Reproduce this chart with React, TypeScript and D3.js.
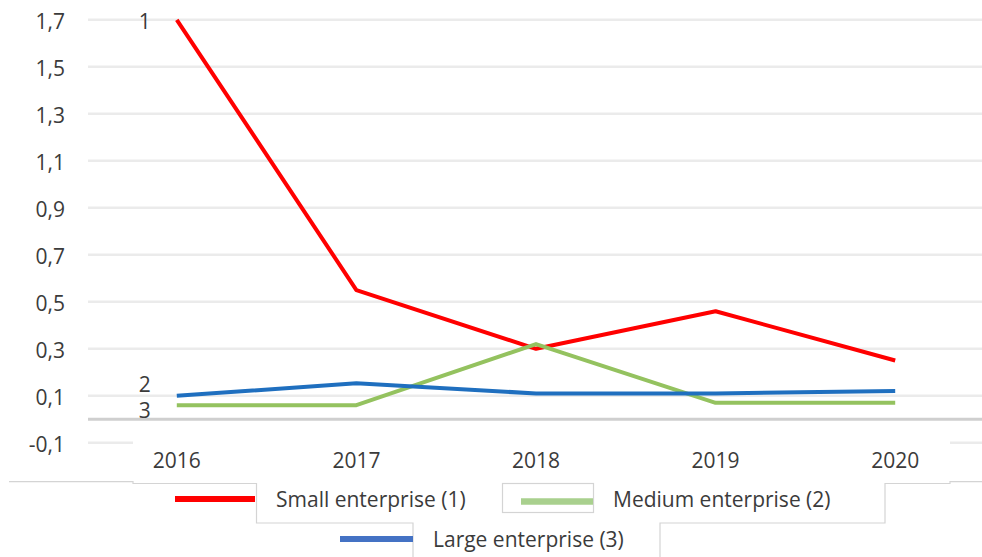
import React from 'react';
import * as d3 from 'd3';

const years = ['2016', '2017', '2018', '2019', '2020'];
const smallEnterprise = [1.7, 0.55, 0.3, 0.46, 0.25];
const mediumEnterprise = [0.06, 0.06, 0.32, 0.07, 0.07];
const largeEnterprise = [0.1, 0.153, 0.11, 0.11, 0.12];
const yTicks = [-0.1, 0.1, 0.3, 0.5, 0.7, 0.9, 1.1, 1.3, 1.5, 1.7];
const seriesNames = ['Small enterprise (1)', 'Medium enterprise (2)', 'Large enterprise (3)'];
const lineLabels = ['1', '2', '3'];

const W = 982;
const H = 557;
const FONT = "'Open Sans', sans-serif";
const TEXT = '#3b3b3b';
const BORDER = '#d4d4d4';

export default function App() {
  const x = d3.scalePoint<string>().domain(years).range([87, 985]).padding(0.5);
  const y = d3.scaleLinear().domain([0, 1.7]).range([419.3, 19.8]);
  const line = d3
    .line<number>()
    .x((_, i) => x(years[i]) as number)
    .y((d) => y(d));

  const fmt = (v: number) => d3.format('.1f')(v).replace('.', ',').replace('−', '-');

  const series = [
    { values: smallEnterprise, color: '#ff0000', legend: '#ff0000' },
    { values: mediumEnterprise, color: '#94c25f', legend: '#a9d08e' },
    { values: largeEnterprise, color: '#1f6fbf', legend: '#4472c4' },
  ];

  const x0 = x(years[0]) as number;

  return (
    <svg
      width={W}
      height={H}
      style={{ position: 'absolute', left: 0, top: 0, background: '#fff' }}
      fontFamily={FONT}
    >
      <rect x={0} y={0} width={W} height={H} fill="#fff" />
      {/* gridlines */}
      {yTicks.map((t) => (
        <line key={t} x1={88} x2={W} y1={y(t)} y2={y(t)} stroke="#ebebeb" strokeWidth={2.5} />
      ))}
      {/* zero axis */}
      <line x1={88} x2={W} y1={y(0)} y2={y(0)} stroke="#cfcfcf" strokeWidth={3} />
      {/* category label panel covering part of the lowest gridline */}
      <rect x={133} y={428} width={817} height={54} fill="#fff" />
      {/* y tick labels */}
      {yTicks.map((t) => (
        <text key={t} x={65} y={y(t) + 9} textAnchor="end" fontSize={21} fill={TEXT}>
          {fmt(t)}
        </text>
      ))}
      {/* x labels */}
      {years.map((yr) => (
        <text key={yr} x={x(yr) as number} y={468} textAnchor="middle" fontSize={21} fill={TEXT}>
          {yr}
        </text>
      ))}
      {/* lines */}
      {series.map((s, i) => (
        <path
          key={i}
          d={line(s.values) || ''}
          fill="none"
          stroke={s.color}
          strokeWidth={4}
          strokeLinejoin="round"
        />
      ))}
      {/* line labels */}
      <text x={x0 - 32} y={y(smallEnterprise[0]) + 9} textAnchor="middle" fontSize={21} fill={TEXT}>
        {lineLabels[0]}
      </text>
      <text x={x0 - 32} y={y(largeEnterprise[0]) - 4} textAnchor="middle" fontSize={21} fill={TEXT}>
        {lineLabels[1]}
      </text>
      <text x={x0 - 32} y={y(mediumEnterprise[0]) + 13} textAnchor="middle" fontSize={21} fill={TEXT}>
        {lineLabels[2]}
      </text>
      {/* legend frame pieces */}
      <path
        d="M9,481.7 H133 V483.5 H256.5 V523 H413 V557"
        fill="none"
        stroke={BORDER}
        strokeWidth={1.2}
      />
      <path
        d="M660,557 V523 H885 V483.5 H950 V481.7 H982"
        fill="none"
        stroke={BORDER}
        strokeWidth={1.2}
      />
      <rect x={502.5} y={483.5} width={91} height={29} fill="none" stroke={BORDER} strokeWidth={1.2} />
      {/* legend samples */}
      <line x1={175} x2={255} y1={499} y2={499} stroke={series[0].legend} strokeWidth={6} />
      <line x1={521} x2={593} y1={501.5} y2={501.5} stroke={series[1].legend} strokeWidth={6.5} />
      <line x1={340} x2={413} y1={539} y2={539} stroke={series[2].legend} strokeWidth={6} />
      {/* legend texts */}
      <text x={276} y={507} fontSize={21} fill={TEXT}>
        {seriesNames[0]}
      </text>
      <text x={613} y={507} fontSize={21} fill={TEXT}>
        {seriesNames[1]}
      </text>
      <text x={433} y={547} fontSize={21} fill={TEXT}>
        {seriesNames[2]}
      </text>
    </svg>
  );
}
